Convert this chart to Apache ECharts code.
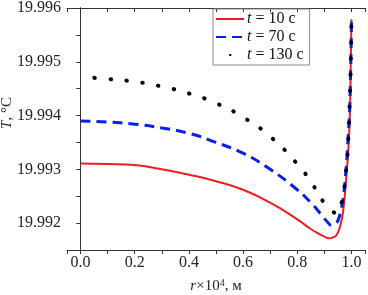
<!DOCTYPE html>
<html>
<head>
<meta charset="utf-8">
<script src="https://cdn.jsdelivr.net/npm/echarts@6/dist/echarts.min.js"></script>
<style>
  html, body { margin: 0; padding: 0; background: #fff; }
  #chart { width: 368px; height: 295px; }
</style>
</head>
<body>
<div id="chart"></div>
<script>
// r x 10^4 (m) and T (deg C)
const r10 = [0, 0.1, 0.2, 0.3, 0.4, 0.5, 0.6, 0.7, 0.8, 0.85, 0.88, 0.9, 0.915, 0.93, 0.945, 0.96, 0.97, 0.98, 0.99, 0.995, 1.0]
const T10 = [19.99311, 19.9931, 19.99308, 19.993, 19.9929, 19.99278, 19.99262, 19.99238, 19.99207, 19.99189, 19.9918, 19.99175, 19.99172, 19.99173, 19.99178, 19.99198, 19.99225, 19.9928, 19.9935, 19.9942, 19.99579]

const r70 = [0, 0.1, 0.2, 0.3, 0.4, 0.5, 0.6, 0.7, 0.8, 0.85, 0.89, 0.91, 0.927, 0.94, 0.951, 0.96, 0.97, 0.98, 0.987, 0.994, 1.0]
const T70 = [19.9939, 19.99388, 19.99384, 19.99377, 19.99367, 19.9935, 19.9933, 19.993, 19.99262, 19.99238, 19.99215, 19.99203, 19.99196, 19.99198, 19.99206, 19.99222, 19.99249, 19.993, 19.99354, 19.9942, 19.99579]

const r130 = [0, 0.1, 0.2, 0.3, 0.4, 0.5, 0.6, 0.7, 0.8, 0.85, 0.9, 0.93, 0.946, 0.96, 0.975, 0.99, 1.0]
const T130 = [19.99472, 19.99468, 19.99463, 19.99454, 19.99441, 19.99423, 19.99397, 19.99361, 19.9931, 19.99277, 19.99237, 19.99222, 19.99218, 19.99232, 19.99272, 19.99375, 19.99579]

const seriesNames = ['t = 10 c', 't = 70 c', 't = 130 c']

const xMin = -0.05, xMax = 1.05
const yMin = 19.9915, yMax = 19.996

const font = 'Liberation Serif'
const axisColor = '#333'

const zip = (xs, ys) => xs.map((x, i) => [x, ys[i]])
const near = (v, step) => Math.abs(v / step - Math.round(v / step)) < 1e-6

const chart = echarts.init(document.getElementById('chart'))

const baseX = {
  type: 'value',
  min: xMin,
  max: xMax,
  minInterval: 0.1,
  maxInterval: 0.1,
  splitLine: { show: false },
  axisLine: { lineStyle: { color: axisColor, width: 1 } },
}
const baseY = {
  type: 'value',
  min: yMin,
  max: yMax,
  minInterval: 0.0005,
  maxInterval: 0.0005,
  scale: true,
  splitLine: { show: false },
  axisLine: { lineStyle: { color: axisColor, width: 1 } },
}

const option = {
  animation: false,
  textStyle: { fontFamily: font },
  grid: { left: 67, right: 3, top: 8, bottom: 45, outerBoundsMode: 'none' },
  legend: {
    left: 213,
    top: 9,
    orient: 'vertical',
    itemWidth: 28,
    itemHeight: 14,
    itemGap: 2,
    padding: [2, 6, 2, 2],
    borderColor: '#888',
    borderWidth: 1,
    borderRadius: 0,
    data: seriesNames,
    itemStyle: { opacity: 0 },
    formatter: name => '{i|t}' + name.slice(1),
    textStyle: {
      fontFamily: font,
      fontSize: 16,
      color: '#111',
      padding: [0, 0, 0, -2],
      rich: { i: { fontFamily: font, fontSize: 16, fontStyle: 'italic', color: '#111' } },
    },
  },
  xAxis: [
    Object.assign({}, baseX, {
      position: 'bottom',
      name: '{i|r}×10{s|4}, м',
      nameLocation: 'middle',
      nameGap: 28,
      nameMoveOverlap: false,
      nameTextStyle: {
        fontFamily: font, fontSize: 15, color: '#222',
        rich: {
          i: { fontFamily: font, fontSize: 15, fontStyle: 'italic', color: '#222' },
          s: { fontFamily: font, fontSize: 10, color: '#222', verticalAlign: 'top', padding: [0, 0, 6, 0] },
        },
      },
      axisTick: { inside: false, length: 4, lineStyle: { color: axisColor } },
      axisLabel: {
        margin: 5,
        interval: 0,
        fontFamily: font,
        fontSize: 16,
        color: '#222',
        formatter: v => (v >= -1e-9 && v <= 1 + 1e-9 && near(v, 0.2)) ? v.toFixed(1) : '',
      },
    }),
    Object.assign({}, baseX, {
      position: 'top',
      axisTick: { inside: true, length: 4, lineStyle: { color: axisColor } },
      axisLabel: { show: false },
    }),
  ],
  yAxis: [
    Object.assign({}, baseY, {
      position: 'left',
      name: '{i|T}, °C',
      nameLocation: 'middle',
      nameRotate: 90,
      nameGap: 52,
      nameMoveOverlap: false,
      nameTextStyle: {
        fontFamily: font, fontSize: 15, color: '#222',
        padding: [0, 0, 0, 32],
        rich: { i: { fontFamily: font, fontSize: 15, fontStyle: 'italic', color: '#222' } },
      },
      axisTick: { inside: false, length: 4, lineStyle: { color: axisColor } },
      axisLabel: {
        margin: 6,
        interval: 0,
        fontFamily: font,
        fontSize: 16,
        color: '#222',
        formatter: v => near(v, 0.001) ? v.toFixed(3) : '',
      },
    }),
    Object.assign({}, baseY, {
      position: 'right',
      axisTick: { inside: true, length: 4, lineStyle: { color: axisColor } },
      axisLabel: { show: false },
    }),
  ],
  series: [
    {
      name: seriesNames[0],
      type: 'line',
      data: zip(r10, T10),
      symbol: 'none',
      smooth: true,
      lineStyle: { color: '#ee1c25', width: 2 },
      itemStyle: { color: '#ee1c25' },
      z: 2,
    },
    {
      name: seriesNames[1],
      type: 'line',
      data: zip(r70, T70),
      symbol: 'none',
      smooth: true,
      lineStyle: { color: '#0a1fe8', width: 3, type: [10, 6] },
      itemStyle: { color: '#0a1fe8' },
      z: 3,
    },
    {
      name: seriesNames[2],
      type: 'line',
      data: zip(r130, T130),
      symbol: 'none',
      smooth: true,
      lineStyle: { color: '#000', width: 4, type: [0.5, 15.5], cap: 'round', dashOffset: 2 },
      itemStyle: { color: '#000' },
      z: 4,
    },
  ],
}

chart.setOption(option)
</script>
</body>
</html>
